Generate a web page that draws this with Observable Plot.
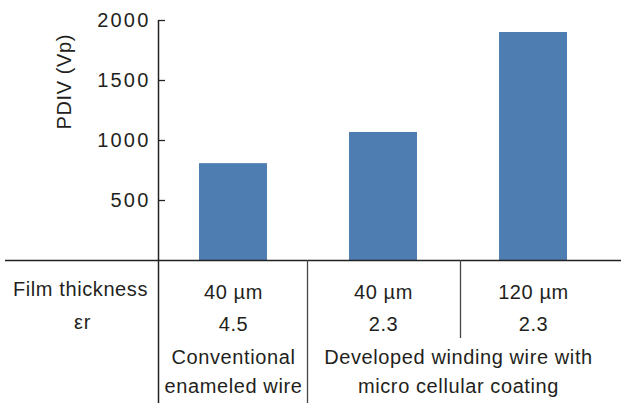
<!DOCTYPE html>
<html>
<head>
<meta charset="utf-8">
<script src="https://cdn.jsdelivr.net/npm/d3@7"></script>
<script src="https://cdn.jsdelivr.net/npm/@observablehq/plot@0.6"></script>
<style>
  html, body { margin: 0; padding: 0; background: #fff; }
  #chart svg { display: block; }
</style>
</head>
<body>
<div id="chart"></div>
<script>
// ---- data ----
const categories = ["Conventional 40 µm", "Developed 40 µm", "Developed 120 µm"];
const pdiv = [807, 1067, 1900];
const thickness = ["40 µm", "40 µm", "120 µm"];
const epsilonR = ["4.5", "2.3", "2.3"];
const rowLabels = ["Film thickness", "εr"];
const groupConventional = "Conventional\nenameled wire";
const groupDeveloped = "Developed winding wire with\nmicro cellular coating";
const yTicks = [500, 1000, 1500, 2000];
const yLabel = "PDIV (Vp)";

const rows = categories.map((c, i) => ({cat: c, value: pdiv[i], t: thickness[i], e: epsilonR[i]}));

const ink = "#231f20";
const barColor = "#4e7db2";
const fs = 20;

const plot = Plot.plot({
  width: 622,
  height: 403,
  marginTop: 20,
  marginBottom: 143,
  marginLeft: 158,
  marginRight: 14,
  style: {fontFamily: "'Liberation Sans', Arial, sans-serif", fontSize: fs + "px", color: ink, letterSpacing: "0.6px", overflow: "visible"},
  x: {domain: categories, paddingInner: 0.547, paddingOuter: 0.2733, axis: null},
  y: {domain: [0, 2000], axis: null},
  marks: [
    Plot.barY(rows, {x: "cat", y: "value", fill: barColor}),
    // y axis tick labels
    Plot.axisY({ticks: yTicks, tickFormat: d => String(d), tickSize: 0, tickPadding: 8, label: null, fill: ink, fontSize: fs}),
    // inward ticks
    Plot.ruleY(yTicks, {stroke: "#222", strokeWidth: 1.3, insetRight: 443}),
    // y axis line extended down through the table
    Plot.ruleX([categories[0]], {x: d => d, dx: -75, stroke: "#222", strokeWidth: 1.5, insetBottom: -143}),
    // baseline
    Plot.ruleY([0], {stroke: "#222", strokeWidth: 1.5, insetLeft: -153, insetRight: -13}),
    // table dividers
    Plot.ruleX([categories[1]], {x: d => d, dx: -76, y1: 0, stroke: "#444", strokeWidth: 1.3, insetBottom: -143}),
    Plot.ruleX([categories[2]], {x: d => d, dx: -73, y1: 0, stroke: "#444", strokeWidth: 1.3, insetBottom: -78}),
    // y label
    Plot.text([yLabel], {frameAnchor: "left", text: d => d, rotate: -90, dx: -94, dy: -11, fill: ink, fontSize: fs}),
    // row labels
    Plot.text([rowLabels[0]], {frameAnchor: "bottom-left", text: d => d, textAnchor: "middle", lineAnchor: "bottom", dx: -78, dy: 35, fill: ink, fontSize: fs}),
    Plot.text([rowLabels[1]], {frameAnchor: "bottom-left", text: d => d, textAnchor: "middle", lineAnchor: "bottom", dx: -76, dy: 68, fill: ink, fontSize: fs}),
    // values
    Plot.text(rows, {x: "cat", frameAnchor: "bottom", text: "t", lineAnchor: "bottom", dy: 38, fill: ink, fontSize: fs}),
    Plot.text(rows, {x: "cat", frameAnchor: "bottom", text: "e", lineAnchor: "bottom", dy: 70, fill: ink, fontSize: fs}),
    // group labels
    Plot.text([groupConventional], {x: [categories[0]], frameAnchor: "bottom", text: d => d, lineAnchor: "bottom", lineHeight: 1.45, dy: 132, fill: ink, fontSize: fs}),
    Plot.text([groupDeveloped], {x: [categories[1]], frameAnchor: "bottom", text: d => d, lineAnchor: "bottom", lineHeight: 1.45, dx: 75, dy: 132, fill: ink, fontSize: fs})
  ]
});

d3.select(plot).selectAll('g[aria-label="y-axis tick label"] text').style("letter-spacing", "2.2px");
document.getElementById("chart").appendChild(plot);
</script>
</body>
</html>
